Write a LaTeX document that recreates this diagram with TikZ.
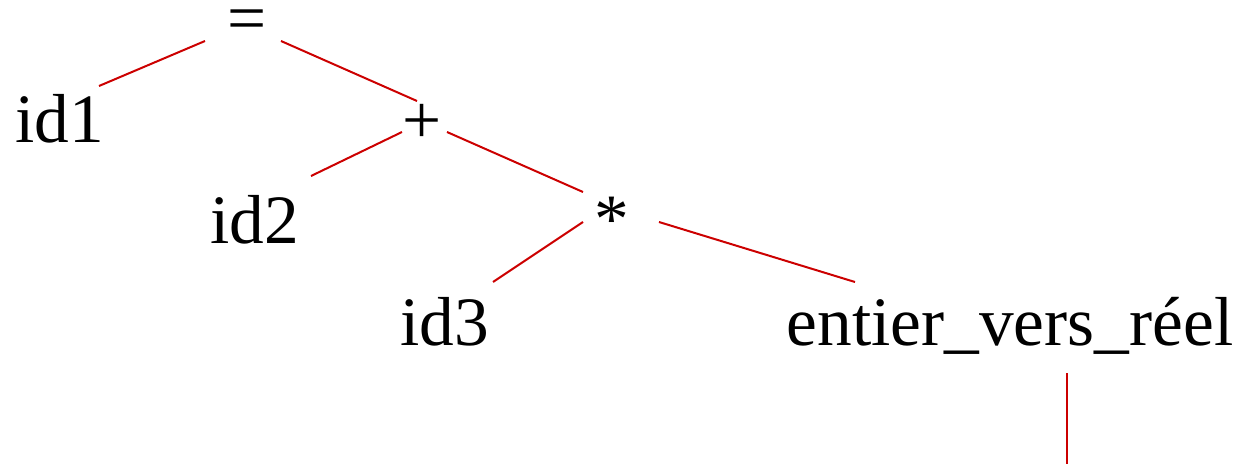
\documentclass[tikz,border=0pt]{standalone}
\usepackage{fontspec}
\setmainfont{Liberation Serif}
\definecolor{edgered}{RGB}{204,0,0}
\tikzset{
  lbl/.style={anchor=base, inner sep=0pt, font=\fontsize{52}{60}\selectfont},
  edge/.style={draw=edgered, line width=1.5pt}
}
\begin{document}
\begin{tikzpicture}[x=0.75pt,y=-0.75pt]
\useasboundingbox (0,0) rectangle (1245,464);
\node[lbl] (eq) at (247,41) {=};
\node[lbl] (id1) at (60,142) {id1};
\node[lbl] (plus) at (422,143) {+};
\node[lbl] (id2) at (255,243) {id2};
\node[lbl] (star) at (612,242) {*};
\node[lbl] (id3) at (445,345) {id3};
\node[lbl] (conv) at (1010,345) {entier\_vers\_réel};
\coordinate (leaf) at (1067,464);
\draw[edge] ([shift={(-42,0)}]eq.base) -- ([shift={(39,-56)}]id1.base);
\draw[edge] ([shift={(34,0)}]eq.base) -- ([shift={(-5,-42)}]plus.base);
\draw[edge] ([shift={(-20,-11)}]plus.base) -- ([shift={(56,-67)}]id2.base);
\draw[edge] ([shift={(25,-11)}]plus.base) -- ([shift={(-29,-50)}]star.base);
\draw[edge] ([shift={(-29,-20)}]star.base) -- ([shift={(48,-63)}]id3.base);
\draw[edge] ([shift={(47,-20)}]star.base) -- ([shift={(-155,-63)}]conv.base);
\draw[edge] ([shift={(57,28)}]conv.base) -- (leaf);
\end{tikzpicture}
\end{document}
